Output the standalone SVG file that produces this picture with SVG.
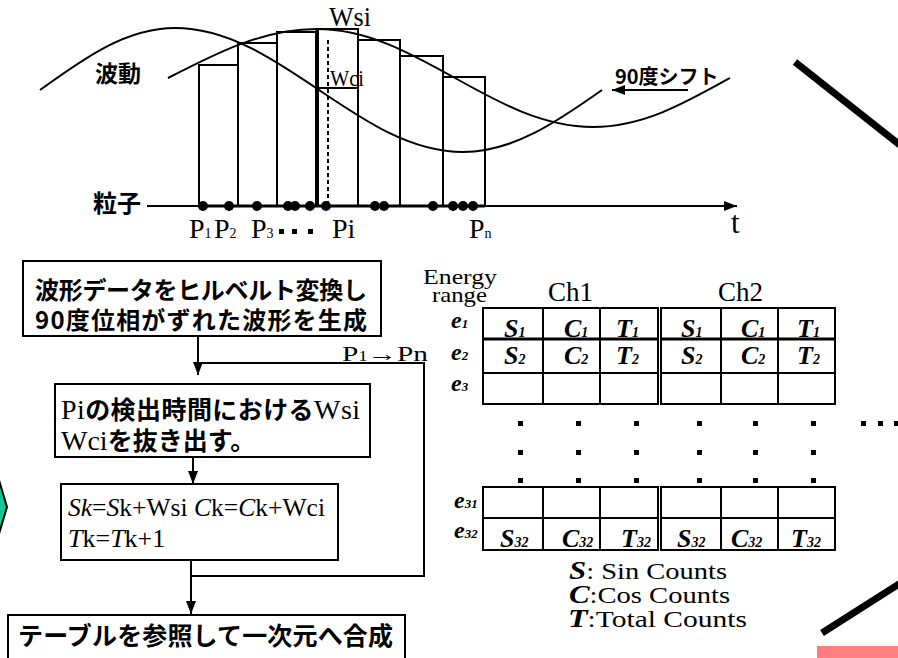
<svg xmlns="http://www.w3.org/2000/svg" width="898" height="658" viewBox="0 0 898 658">
<defs>
<style>
.ln{stroke:#000;stroke-width:2;fill:none}
.bx{stroke:#000;stroke-width:2;fill:#fff}
.bar{stroke:#000;stroke-width:2;fill:none}
.jp{font-family:"Noto Sans CJK JP","Noto Sans CJK SC",sans-serif;font-weight:bold;fill:#000}
.sf{font-family:"Liberation Serif","Times New Roman",serif;font-weight:normal;fill:#000}
.bi{font-family:"Liberation Serif","Times New Roman",serif;font-weight:bold;font-style:italic;fill:#000}
.it{font-style:italic}
.thick{stroke:#000;stroke-width:7}
.dot{fill:#000}
</style>
<marker id="ah" markerWidth="13" markerHeight="10" refX="13" refY="5" orient="auto" markerUnits="userSpaceOnUse"><path d="M0,0 L13,5 L0,10 Z" fill="#000"/></marker>
</defs>
<rect width="898" height="658" fill="#fff"/>

<!-- decorative edge shapes -->
<polygon points="-30,470 -4,470 7,507 -4,544 -30,544" fill="#12c795" stroke="#000" stroke-width="2"/>
<line class="thick" x1="795" y1="62" x2="910" y2="153"/>
<line class="thick" x1="822" y1="633" x2="910" y2="577"/>
<rect x="817" y="646" width="90" height="15" fill="#ff7f7f"/>

<!-- waveform plot -->
<g id="waveplot">
  <rect class="bar" x="199" y="65" width="39" height="141"/>
  <rect class="bar" x="238" y="43" width="39" height="163"/>
  <rect class="bar" x="277" y="32" width="39" height="174"/>
  <rect class="bar" x="318" y="29" width="40" height="177"/>
  <line x1="317" y1="29" x2="317" y2="206" stroke="#000" stroke-width="3"/>
  <line class="ln" x1="318" y1="88" x2="358" y2="88"/>
  <rect class="bar" x="358" y="40" width="42" height="166"/>
  <rect class="bar" x="400" y="56" width="43" height="150"/>
  <rect class="bar" x="443" y="77" width="42" height="129"/>
  <line x1="328" y1="40" x2="328" y2="204" stroke="#000" stroke-width="2" stroke-dasharray="4,3"/>
  <path class="ln" d="M40,90 C84,58.2 126,28 175,28 C227,28 272,58.2 319,90 C366,121.8 411,152 463,152 C513,152 557,121.8 602,90"/>
  <path class="ln" d="M168,78 C216.6,52.9 263,29 317,29 C367,29 410,52.9 455,78 C500,103.1 543,127 593,127 C643,127 685,103.1 730,78"/>
  <line class="ln" x1="147" y1="206" x2="737" y2="206" marker-end="url(#ah)"/>
  <line x1="199" y1="206" x2="485" y2="206" stroke="#000" stroke-width="3"/>
  <g class="dot">
    <circle cx="203" cy="206" r="5"/><circle cx="229" cy="206" r="5"/><circle cx="257" cy="206" r="5"/>
    <circle cx="288" cy="206" r="5"/><circle cx="295" cy="206" r="5"/><circle cx="310" cy="206" r="5"/>
    <circle cx="326" cy="206" r="5"/><circle cx="375" cy="206" r="5"/><circle cx="384" cy="206" r="5"/>
    <circle cx="433" cy="206" r="5"/><circle cx="453" cy="206" r="5"/><circle cx="463" cy="206" r="5"/>
    <circle cx="473" cy="206" r="5"/>
  </g>
  <text class="jp" x="95" y="82" font-size="23">波動</text>
  <text class="jp" x="93" y="212" font-size="24">粒子</text>
  <text class="sf" x="329" y="26" font-size="27" textLength="42" lengthAdjust="spacingAndGlyphs">Wsi</text>
  <text class="sf" x="330" y="86" font-size="24" textLength="34" lengthAdjust="spacingAndGlyphs">Wci</text>
  <text class="jp" x="615" y="84" font-size="20" font-weight="600">90度シフト</text>
  <line class="ln" x1="688" y1="90" x2="612" y2="90" marker-end="url(#ah)"/>
  <text class="sf" x="731" y="233" font-size="31">t</text>
  <g class="sf" font-size="28">
    <text x="189" y="238">P<tspan font-size="14">1</tspan></text>
    <text x="214" y="238">P<tspan font-size="14">2</tspan></text>
    <text x="251" y="238">P<tspan font-size="14">3</tspan></text>
    <text x="332" y="238">Pi</text>
    <text x="469" y="238">P<tspan font-size="14">n</tspan></text>
  </g>
  <rect class="dot" x="279" y="229" width="5" height="5"/>
  <rect class="dot" x="292" y="229" width="5" height="5"/>
  <rect class="dot" x="308" y="229" width="5" height="5"/>
</g>

<!-- flowchart nodes -->
<g id="box1">
  <rect class="bx" x="23" y="261" width="358" height="75"/>
  <text class="jp" x="35" y="299" font-size="24" textLength="332" lengthAdjust="spacing">波形データをヒルベルト変換し</text>
  <text class="jp" x="35" y="329" font-size="24" textLength="332" lengthAdjust="spacing">90度位相がずれた波形を生成</text>
</g>
<g id="box2">
  <rect class="bx" x="55" y="384" width="315" height="73"/>
  <text class="jp" x="61" y="419" font-size="25" textLength="299" lengthAdjust="spacing"><tspan class="sf" font-size="28">Pi</tspan>の検出時間における<tspan class="sf" font-size="28">Wsi</tspan></text>
  <text class="jp" x="61" y="450" font-size="25"><tspan class="sf" font-size="28">Wci</tspan>を抜き出す。</text>
</g>
<g id="box3">
  <rect class="bx" x="61" y="484" width="277" height="76"/>
  <text class="sf" x="68" y="516" font-size="26" textLength="257" lengthAdjust="spacingAndGlyphs"><tspan class="it">Sk</tspan>=<tspan class="it">S</tspan>k+Wsi <tspan class="it">C</tspan>k=<tspan class="it">C</tspan>k+Wci</text>
  <text class="sf" x="68" y="547" font-size="26"><tspan class="it">T</tspan>k=<tspan class="it">T</tspan>k+1</text>
</g>
<g id="box4">
  <rect class="bx" x="8" y="615" width="397" height="60"/>
  <text class="jp" x="18" y="645" font-size="25" textLength="375" lengthAdjust="spacing">テーブルを参照して一次元へ合成</text>
</g>

<!-- connectors -->
<g id="connectors">
  <line class="ln" x1="198" y1="336" x2="198" y2="375" marker-end="url(#ah)"/>
  <line class="ln" x1="193" y1="457" x2="193" y2="484" marker-end="url(#ah)"/>
  <line class="ln" x1="191" y1="560" x2="191" y2="614" marker-end="url(#ah)"/>
  <polyline class="ln" points="191,576 424,576 424,363 198,363"/>
  <text class="sf" x="342" y="361" font-size="22" textLength="86" lengthAdjust="spacingAndGlyphs">P<tspan font-size="14">1</tspan>→P<tspan>n</tspan></text>
</g>

<!-- table -->
<g id="table">
  <text class="sf" x="423" y="284" font-size="22" textLength="74" lengthAdjust="spacingAndGlyphs">Energy</text>
  <text class="sf" x="432" y="302" font-size="22" textLength="55" lengthAdjust="spacingAndGlyphs">range</text>
  <text class="sf" x="548" y="301" font-size="27">Ch1</text>
  <text class="sf" x="718" y="301" font-size="27">Ch2</text>
  <g class="bi" font-size="24">
    <text x="451" y="328">e<tspan font-size="13">1</tspan></text>
    <text x="451" y="360">e<tspan font-size="13">2</tspan></text>
    <text x="451" y="391">e<tspan font-size="13">3</tspan></text>
    <text x="454" y="508">e<tspan font-size="13">31</tspan></text>
    <text x="454" y="538">e<tspan font-size="13">32</tspan></text>
  </g>
  <g id="ch1-top">
    <rect class="ln" x="483" y="308" width="175" height="96"/>
    <line class="ln" x1="543" y1="308" x2="543" y2="404"/>
    <line class="ln" x1="600" y1="308" x2="600" y2="404"/>
    <line x1="483" y1="339" x2="658" y2="339" stroke="#000" stroke-width="3"/>
    <line class="ln" x1="483" y1="373" x2="658" y2="373"/>
  </g>
  <g id="ch2-top">
    <rect class="ln" x="661" y="308" width="174" height="96"/>
    <line class="ln" x1="721" y1="308" x2="721" y2="404"/>
    <line class="ln" x1="778" y1="308" x2="778" y2="404"/>
    <line x1="661" y1="339" x2="835" y2="339" stroke="#000" stroke-width="3"/>
    <line class="ln" x1="661" y1="373" x2="835" y2="373"/>
  </g>
  <g id="ch1-bottom">
    <rect class="ln" x="483" y="487" width="175" height="63"/>
    <line class="ln" x1="543" y1="487" x2="543" y2="550"/>
    <line class="ln" x1="600" y1="487" x2="600" y2="550"/>
    <line class="ln" x1="483" y1="518" x2="658" y2="518"/>
  </g>
  <g id="ch2-bottom">
    <rect class="ln" x="661" y="487" width="174" height="63"/>
    <line class="ln" x1="721" y1="487" x2="721" y2="550"/>
    <line class="ln" x1="778" y1="487" x2="778" y2="550"/>
    <line class="ln" x1="661" y1="518" x2="835" y2="518"/>
  </g>
  <g class="bi" font-size="26">
    <text x="504" y="337">S<tspan font-size="14">1</tspan></text>
    <text x="564" y="337">C<tspan font-size="14">1</tspan></text>
    <text x="616" y="337">T<tspan font-size="14">1</tspan></text>
    <text x="681" y="337">S<tspan font-size="14">1</tspan></text>
    <text x="741" y="337">C<tspan font-size="14">1</tspan></text>
    <text x="797" y="337">T<tspan font-size="14">1</tspan></text>
    <text x="504" y="364">S<tspan font-size="14">2</tspan></text>
    <text x="564" y="364">C<tspan font-size="14">2</tspan></text>
    <text x="616" y="364">T<tspan font-size="14">2</tspan></text>
    <text x="681" y="364">S<tspan font-size="14">2</tspan></text>
    <text x="741" y="364">C<tspan font-size="14">2</tspan></text>
    <text x="797" y="364">T<tspan font-size="14">2</tspan></text>
    <text x="500" y="547">S<tspan font-size="14">32</tspan></text>
    <text x="562" y="547">C<tspan font-size="14">32</tspan></text>
    <text x="621" y="547">T<tspan font-size="14">32</tspan></text>
    <text x="677" y="547">S<tspan font-size="14">32</tspan></text>
    <text x="731" y="547">C<tspan font-size="14">32</tspan></text>
    <text x="791" y="547">T<tspan font-size="14">32</tspan></text>
  </g>
  <g class="dot">
    <rect x="518" y="421" width="5" height="5"/><rect x="576" y="421" width="5" height="5"/><rect x="634" y="421" width="5" height="5"/>
    <rect x="697" y="421" width="5" height="5"/><rect x="753" y="421" width="5" height="5"/><rect x="811" y="421" width="5" height="5"/>
    <rect x="861" y="421" width="5" height="5"/><rect x="878" y="421" width="5" height="5"/><rect x="894" y="421" width="5" height="5"/>
    <rect x="518" y="450" width="5" height="5"/><rect x="576" y="450" width="5" height="5"/><rect x="634" y="450" width="5" height="5"/>
    <rect x="697" y="450" width="5" height="5"/><rect x="753" y="450" width="5" height="5"/><rect x="811" y="450" width="5" height="5"/>
    <rect x="518" y="478" width="5" height="5"/><rect x="576" y="478" width="5" height="5"/><rect x="634" y="478" width="5" height="5"/>
    <rect x="697" y="478" width="5" height="5"/><rect x="753" y="478" width="5" height="5"/><rect x="811" y="478" width="5" height="5"/>
  </g>
  <g class="sf" font-size="24">
    <text x="569" y="579" textLength="158" lengthAdjust="spacingAndGlyphs"><tspan class="bi" font-size="26">S</tspan>: Sin Counts</text>
    <text x="569" y="603" textLength="161" lengthAdjust="spacingAndGlyphs"><tspan class="bi" font-size="26">C</tspan>:Cos Counts</text>
    <text x="568" y="627" textLength="179" lengthAdjust="spacingAndGlyphs"><tspan class="bi" font-size="26">T</tspan>:Total Counts</text>
  </g>
</g>
</svg>
